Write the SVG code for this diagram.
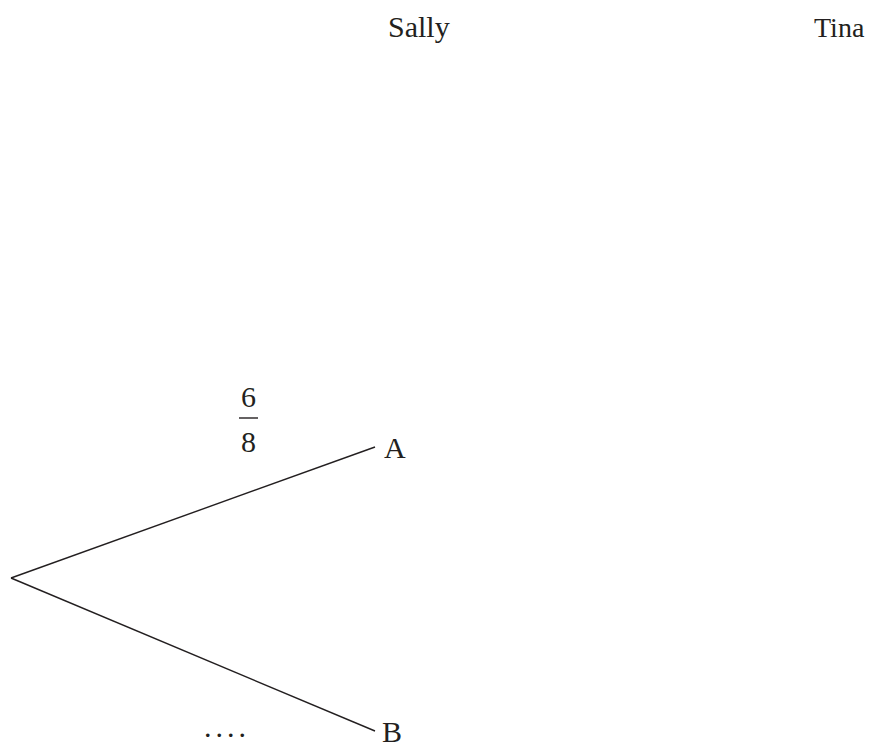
<svg xmlns="http://www.w3.org/2000/svg" width="873" height="748" viewBox="0 0 873 748">
<style>
.t{font-family:'Liberation Serif','Times New Roman',Times,serif;font-size:30px;fill:#231f20}
.edge{stroke:#231f20;stroke-width:1.4;fill:none}
</style>
<rect width="873" height="748" fill="#fff"/>
<g id="headers">
<text class="t" x="388" y="37">Sally</text>
<text class="t" x="814" y="37" style="font-size:28px">Tina</text>
</g>
<g id="connectors">
<line class="edge" x1="11" y1="578" x2="375" y2="447"/>
<line class="edge" x1="11" y1="578" x2="375" y2="731"/>
<line class="edge" x1="239" y1="418" x2="258" y2="418"/>
</g>
<g id="nodeA"><text class="t" x="384" y="458">A</text></g>
<g id="nodeB"><text class="t" x="382" y="742">B</text></g>
<g id="probA">
<text class="t" x="248.5" y="407" text-anchor="middle">6</text>
<text class="t" x="248.5" y="452" text-anchor="middle">8</text>
</g>
<g id="probB"><text class="t" x="204" y="737" letter-spacing="4">....</text></g>
</svg>
